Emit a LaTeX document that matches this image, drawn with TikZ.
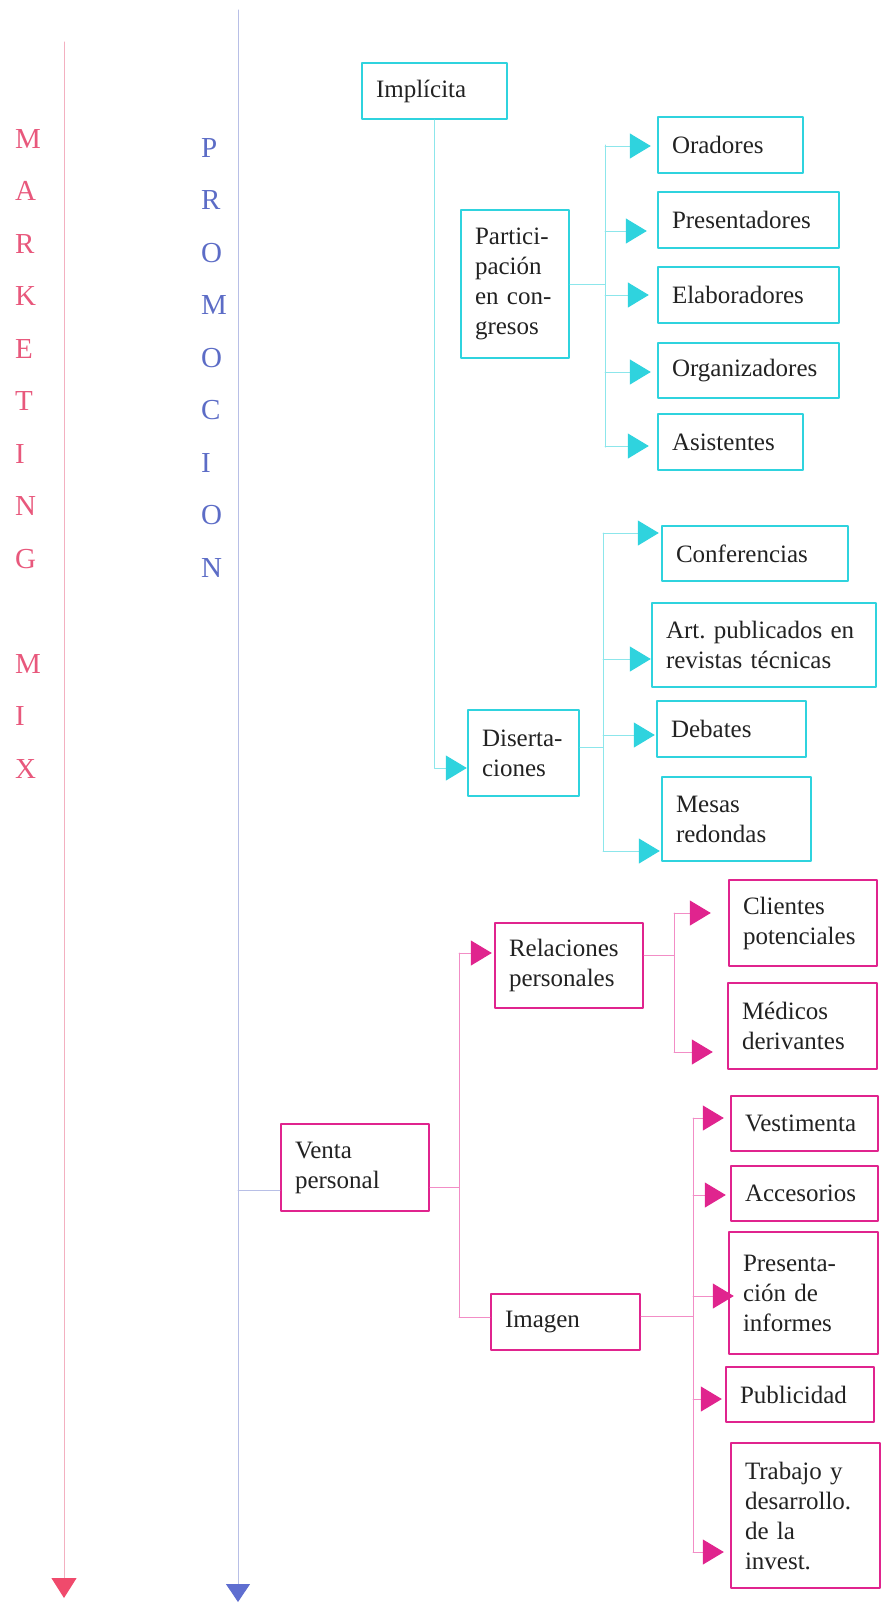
\documentclass[tikz,border=0pt]{standalone}
\usepackage{fontspec}
\setmainfont{Liberation Serif}
\usetikzlibrary{arrows.meta}
\definecolor{cyBox}{HTML}{2FD3DE}
\definecolor{cyLine}{HTML}{8CE6EB}
\definecolor{mgBox}{HTML}{E0248E}
\definecolor{mgLine}{HTML}{F28DC6}
\definecolor{mkTxt}{HTML}{E8587C}
\definecolor{mkLine}{HTML}{F3B0C0}
\definecolor{mkTip}{HTML}{F04A6C}
\definecolor{prTxt}{HTML}{5C6CC6}
\definecolor{prLine}{HTML}{B8BFE6}
\definecolor{prTip}{HTML}{5F6ED0}
\definecolor{txtcol}{HTML}{222222}

\begin{document}
\begin{tikzpicture}[x=1pt,y=-1pt,line cap=round,line join=round,
  box/.style={draw,rectangle,line width=2.4pt,inner xsep=14pt,inner ysep=0pt,
    align=left,text=txtcol,font=\fontsize{25}{30}\selectfont},
  cybox/.style={box,draw=cyBox},
  mgbox/.style={box,draw=mgBox},
  cyline/.style={cyLine,line width=1pt},
  mgline/.style={mgLine,line width=1pt},
  cyarr/.style={cyline,-{Triangle[length=21pt,width=25pt,color=cyBox]}},
  mgarr/.style={mgline,-{Triangle[length=21pt,width=25pt,color=mgBox]}},
  letter/.style={inner sep=0pt,anchor=base west,font=\fontsize{29}{29}\selectfont}]

  \useasboundingbox (0,0) rectangle (883,1603);

  % the two long axes
  \coordinate (mtop) at (64,42);
  \coordinate (mbot) at (64,1598);
  \coordinate (ptop) at (238,10);
  \coordinate (pbot) at (238,1602);
  \draw[mkLine,line width=1pt,-{Triangle[length=20pt,width=25pt,color=mkTip]}] (mtop) -- (mbot);
  \draw[prLine,line width=1pt,-{Triangle[length=18pt,width=24pt,color=prTip]}] (ptop) -- (pbot);

  \foreach \ch/\k in {M/0,A/1,R/2,K/3,E/4,T/5,I/6,N/7,G/8,M/10,I/11,X/12}
    \node[letter,text=mkTxt] at (15,148+52.5*\k) {\ch};
  \foreach \ch/\k in {P/0,R/1,O/2,M/3,O/4,C/5,I/6,O/7,N/8}
    \node[letter,text=prTxt] at (201,157+52.5*\k) {\ch};

  % promocion -- cyan part
  \node[cybox,text width=117pt,minimum height=56pt] (impl) at (434.5,91) {Implícita};
  \node[cybox,text width=80pt,minimum height=148pt] (part) at (515,284) {Partici-\\pación\\en con-\\gresos};
  \node[cybox,text width=117pt,minimum height=56pt] (orad) at (730.5,145) {Oradores};
  \node[cybox,text width=153pt,minimum height=56pt] (pres) at (748.5,220) {Presentadores};
  \node[cybox,text width=153pt,minimum height=56pt] (elab) at (748.5,295) {Elaboradores};
  \node[cybox,text width=153pt,minimum height=55pt] (orga) at (748.5,370.5) {Organizadores};
  \node[cybox,text width=117pt,minimum height=56pt] (asis) at (730.5,442) {Asistentes};
  \node[cybox,text width=83pt,minimum height=86pt] (dis) at (523.5,753) {Diserta-\\ciones};
  \node[cybox,text width=158pt,minimum height=55pt] (conf) at (755,553.5) {Conferencias};
  \node[cybox,text width=196pt,minimum height=84pt] (art) at (764,645) {Art.\ publicados en\\revistas técnicas};
  \node[cybox,text width=121pt,minimum height=56pt] (deb) at (731.5,729) {Debates};
  \node[cybox,text width=121pt,minimum height=84pt] (mesa) at (736.5,819) {Mesas\\redondas};

  \coordinate (tA) at (605,145);
  \coordinate (tAe) at (605,447);
  \coordinate (tB) at (603,533);
  \coordinate (tBe) at (603,851);
  \draw[cyline] (tA) -- (tAe);
  \draw[cyline] (tB) -- (tBe);
  \draw[cyarr] (impl.south) |- (dis.west |- 0,768);
  \draw[cyline] (part.east) -- (part.east -| tA);
  \draw[cyline] (dis.east |- 0,747) -- (tB |- 0,747);
  \foreach \bx/\yy/\gap in {orad/146/6,pres/231/10,elab/295/8,orga/372/6,asis/446/8}
    \draw[cyarr,shorten >=\gap pt] (tA |- 0,\yy) -- (\bx.west |- 0,\yy);
  \foreach \bx/\yy/\gap in {conf/533/2,art/659/0,deb/735/1,mesa/851/1}
    \draw[cyarr,shorten >=\gap pt] (tB |- 0,\yy) -- (\bx.west |- 0,\yy);

  % promocion -- magenta part
  \node[mgbox,text width=120pt,minimum height=87pt] (venta) at (355,1167.5) {Venta\\personal};
  \node[mgbox,text width=120pt,minimum height=85pt] (rel) at (569,965.5) {Relaciones\\personales};
  \node[mgbox,text width=121pt,minimum height=56pt] (img) at (565.5,1322) {Imagen};
  \node[mgbox,text width=120pt,minimum height=86pt] (cli) at (803,923) {Clientes\\potenciales};
  \node[mgbox,text width=121pt,minimum height=86pt] (med) at (802.5,1026) {Médicos\\derivantes};
  \node[mgbox,text width=119pt,minimum height=55pt] (vest) at (804.5,1123.5) {Vestimenta};
  \node[mgbox,text width=119pt,minimum height=55pt] (acc) at (804.5,1193.5) {Accesorios};
  \node[mgbox,text width=121pt,minimum height=122pt] (pinf) at (803.5,1293) {Presenta-\\ción de\\informes};
  \node[mgbox,text width=120pt,minimum height=55pt] (pub) at (800,1394.5) {Publicidad};
  \node[mgbox,text width=121pt,minimum height=145pt] (trab) at (805.5,1515.5) {Trabajo y\\desarrollo.\\de la\\invest.};

  \coordinate (tC) at (459,953);
  \coordinate (tCe) at (459,1317);
  \coordinate (tD) at (674,913);
  \coordinate (tDe) at (674,1052);
  \coordinate (tE) at (693,1118);
  \coordinate (tEe) at (693,1552);
  \draw[mgline] (tC) -- (tCe);
  \draw[mgline] (tD) -- (tDe);
  \draw[mgline] (tE) -- (tEe);
  \draw[prLine,line width=1pt] (ptop |- 0,1190) -- (venta.west |- 0,1190);
  \draw[mgline] (venta.east |- 0,1187) -- (tC |- 0,1187);
  \draw[mgarr,shorten >=2pt] (tC) -- (rel.west |- tC);
  \draw[mgline] (tCe) -- (img.west |- tCe);
  \draw[mgline] (rel.east |- 0,955) -- (tD |- 0,955);
  \draw[mgline] (img.east |- 0,1316) -- (tE |- 0,1316);
  \foreach \bx/\yy/\gap in {cli/913/17,med/1052/14}
    \draw[mgarr,shorten >=\gap pt] (tD |- 0,\yy) -- (\bx.west |- 0,\yy);
  \foreach \bx/\yy/\gap in {vest/1118/6,acc/1195/4,pinf/1296/-6,pub/1399/3,trab/1552/6}
    \draw[mgarr,shorten >=\gap pt] (tE |- 0,\yy) -- (\bx.west |- 0,\yy);

\end{tikzpicture}
\end{document}
